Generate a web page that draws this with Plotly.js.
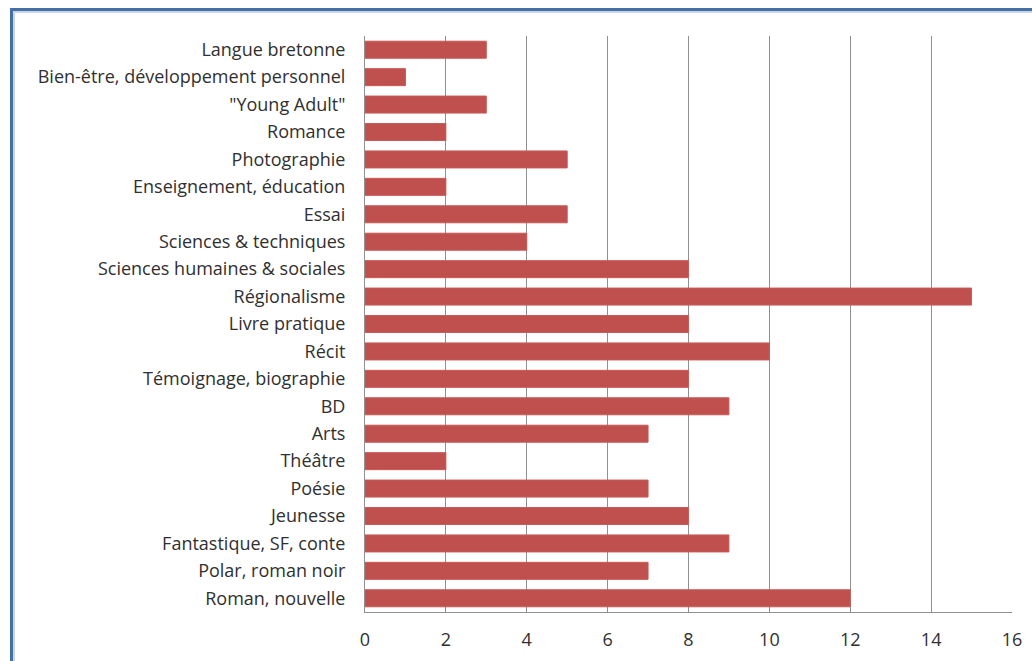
<!DOCTYPE html>
<html>
<head>
<meta charset="utf-8">
<script src="https://cdn.plot.ly/plotly-3.0.1.min.js"></script>
<style>
  body { margin: 0; background: #fff; }
  #chart { position: absolute; left: 0; top: 0; width: 1032px; height: 661px; }
  #frame {
    position: absolute; left: 10px; top: 8px; width: 1040px; height: 650px;
    border-left: 3px solid #4470a6; border-top: 3px solid #4470a6;
    border-bottom: 1px solid #d8d8d8;
    box-shadow: inset 2px 2px 0 #c9d6e8;
    pointer-events: none;
  }
</style>
</head>
<body>
<div id="chart"></div>
<div id="frame"></div>
<script>
// categories listed bottom to top, as in the picture
const categories = [
  'Roman, nouvelle', 'Polar, roman noir', 'Fantastique, SF, conte', 'Jeunesse',
  'Poésie', 'Théâtre', 'Arts', 'BD', 'Témoignage, biographie', 'Récit',
  'Livre pratique', 'Régionalisme', 'Sciences humaines & sociales',
  'Sciences & techniques', 'Essai', 'Enseignement, éducation', 'Photographie',
  'Romance', '"Young Adult"', 'Bien-être, développement personnel', 'Langue bretonne'
];
const counts = [12, 7, 9, 8, 7, 2, 7, 9, 8, 10, 8, 15, 8, 4, 5, 2, 5, 2, 3, 1, 3];
const xTicks = [0, 2, 4, 6, 8, 10, 12, 14, 16];

const font = { family: '"Open Sans", sans-serif', size: 18, color: '#303030' };

Plotly.newPlot('chart', [{
  type: 'bar',
  orientation: 'h',
  y: categories,
  x: counts,
  marker: { color: '#c0504d', line: { color: '#c85a57', width: 1 } },
  hoverinfo: 'x+y'
}], {
  width: 1032, height: 661,
  margin: { l: 365, r: 20, t: 36, b: 49 },
  paper_bgcolor: '#fff', plot_bgcolor: '#fff',
  bargap: 0.38,
  showlegend: false,
  font: font,
  xaxis: {
    range: [0, 16], tickvals: xTicks, ticktext: xTicks.map(String),
    showgrid: true, gridcolor: '#909090', gridwidth: 1,
    showline: true, linecolor: '#909090', linewidth: 1,
    zeroline: false, ticks: '', ticklabelstandoff: 11,
    tickfont: font, fixedrange: true
  },
  yaxis: {
    type: 'category', categoryorder: 'array', categoryarray: categories,
    showgrid: false, showline: true, linecolor: '#909090', linewidth: 1,
    ticks: '', ticklabelstandoff: 15, tickfont: font, fixedrange: true
  }
}, { displayModeBar: false, staticPlot: true });
</script>
</body>
</html>
